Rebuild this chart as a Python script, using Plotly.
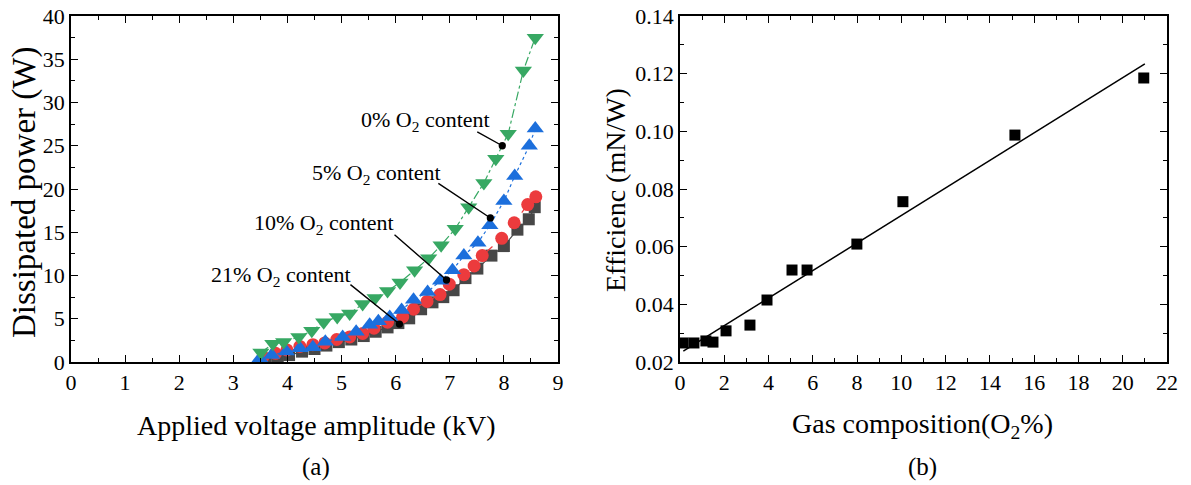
import numpy as np
import plotly.graph_objects as go

W, H = 1191, 485

# ---------------- data (a) ----------------
x_0 = [3.51, 3.73, 3.93, 4.21, 4.45, 4.67, 4.92, 5.15, 5.39, 5.62, 5.85, 6.08, 6.35, 6.61, 6.84, 7.10, 7.35, 7.63, 7.85, 8.08, 8.36, 8.58]
p_0 = [1.1, 2.1, 2.3, 2.9, 3.6, 4.6, 5.2, 5.6, 6.7, 7.4, 8.2, 9.2, 10.6, 12.0, 13.5, 15.4, 17.9, 20.7, 23.5, 26.4, 33.7, 37.5]

x_5 = [3.49, 3.71, 3.98, 4.23, 4.47, 4.70, 5.02, 5.27, 5.52, 5.68, 5.89, 6.11, 6.33, 6.59, 6.83, 7.05, 7.26, 7.52, 7.74, 8.00, 8.20, 8.47, 8.58]
p_5 = [0.4, 0.8, 1.2, 1.6, 1.7, 2.35, 2.9, 3.5, 4.3, 4.7, 5.2, 6.0, 7.2, 8.1, 9.4, 10.6, 12.3, 13.8, 15.8, 18.6, 21.5, 25.0, 27.0]

x_10 = [3.55, 3.78, 3.99, 4.23, 4.47, 4.69, 4.91, 5.15, 5.39, 5.60, 5.85, 6.13, 6.33, 6.58, 6.82, 6.99, 7.26, 7.45, 7.60, 7.96, 8.19, 8.44, 8.59]
p_10 = [0.6, 1.0, 1.4, 1.8, 2.0, 2.2, 2.6, 2.9, 3.3, 3.9, 4.6, 5.2, 6.1, 7.0, 7.8, 9.0, 10.1, 11.1, 12.3, 14.3, 16.1, 18.2, 19.1]

x_21 = [3.60, 3.82, 4.03, 4.27, 4.50, 4.72, 4.95, 5.18, 5.41, 5.63, 5.85, 6.05, 6.25, 6.47, 6.68, 6.88, 7.07, 7.29, 7.51, 7.77, 8.00, 8.25, 8.46, 8.57]
p_21 = [0.3, 0.5, 0.8, 1.2, 1.5, 1.9, 2.3, 2.6, 3.0, 3.5, 4.0, 4.5, 5.05, 6.1, 6.9, 7.5, 8.3, 9.7, 10.8, 12.3, 13.4, 15.3, 16.5, 17.9]

# ---------------- data (b) ----------------
o2_pct = [0.14, 0.63, 1.17, 1.49, 2.08, 3.16, 3.93, 5.06, 5.74, 7.99, 10.07, 15.13, 20.95]
efficiency = [0.0266, 0.0266, 0.0273, 0.0269, 0.0308, 0.0328, 0.0415, 0.0519, 0.0519, 0.0609, 0.0756, 0.0987, 0.1185]
fit_range = [0.15, 21.0]

FONT = "Liberation Serif, Times New Roman, serif"
GREEN, BLUE, RED, DARK = "#37a863", "#1c6fdc", "#ec3b3d", "#474747"

def px(x):
    return x / W

def py(y):
    return 1 - y / H

fig = go.Figure()

series = [
    (x_21, p_21, DARK, "square", 12, "solid"),
    (x_10, p_10, RED, "circle", 13, "dash"),
    (x_5, p_5, BLUE, "triangle-up", 15, "dot"),
    (x_0, p_0, GREEN, "triangle-down", 15, "dashdot"),
]
for xs, ys, col, sym, sz, dash in series:
    fig.add_trace(go.Scatter(x=xs, y=ys, mode="lines+markers", xaxis="x", yaxis="y",
                             line=dict(color=col, width=1.2, dash=dash),
                             marker=dict(symbol=sym, size=sz, color=col, line=dict(width=0)),
                             showlegend=False))

coef = np.polyfit(o2_pct, efficiency, 1)
xf = np.array(fit_range)
fig.add_trace(go.Scatter(x=xf, y=np.polyval(coef, xf), mode="lines", xaxis="x2", yaxis="y2",
                         line=dict(color="black", width=1.5), showlegend=False))
fig.add_trace(go.Scatter(x=o2_pct, y=efficiency, mode="markers", xaxis="x2", yaxis="y2",
                         marker=dict(symbol="square", size=11, color="black"), showlegend=False))

ydom = [py(362), py(16)]
axis_common = dict(showgrid=False, zeroline=False, showline=True, linecolor="black", linewidth=1.5,
                   mirror="ticks", ticks="inside", ticklen=7, tickwidth=1.3, tickcolor="black",
                   automargin=False,
                   tickfont=dict(family=FONT, size=22, color="black"))
minor = dict(ticks="inside", ticklen=4, tickwidth=1.1, tickcolor="black", showgrid=False)

fig.update_layout(
    width=W, height=H, margin=dict(l=0, r=0, t=0, b=0, pad=0, autoexpand=False),
    paper_bgcolor="white", plot_bgcolor="white",
    font=dict(family=FONT, color="black"),
    xaxis=dict(domain=[px(71), px(558)], range=[0, 9], dtick=1, tick0=0, anchor="y",
               minor=dict(dtick=0.5, **minor), **axis_common),
    yaxis=dict(domain=ydom, range=[0, 40], dtick=5, tick0=0, anchor="x",
               minor=dict(dtick=2.5, **minor), **axis_common),
    xaxis2=dict(domain=[px(680), px(1167)], range=[0, 22], dtick=2, tick0=0, anchor="y2",
                minor=dict(dtick=1, **minor), **axis_common),
    yaxis2=dict(domain=ydom, range=[0.02, 0.14], dtick=0.02, tick0=0.02, tickformat=".2f", anchor="x2",
                minor=dict(dtick=0.01, **minor), **axis_common),
)

def text(x, y, s, size, angle=0):
    fig.add_annotation(x=px(x), y=py(y), xref="paper", yref="paper", text=s, showarrow=False,
                       textangle=angle, xanchor="center", yanchor="middle",
                       font=dict(family=FONT, size=size, color="black"))

text(25, 193, "Dissipated power (W)", 33, -90)
text(316, 425, "Applied voltage amplitude (kV)", 28)
text(316, 467, "(a)", 25)
text(616, 190, "Efficienc (mN/W)", 28, -90)
text(922, 425, "Gas composition(O<sub>2</sub>%)", 28)
text(922, 467, "(b)", 25)

labels = [
    ("0% O<sub>2</sub> content", 425, 121, 7.97, 25.0, -27, -15),
    ("5% O<sub>2</sub> content", 376, 174, 7.75, 16.65, -54, -36),
    ("10% O<sub>2</sub> content", 324, 224, 6.94, 9.48, -54, -47),
    ("21% O<sub>2</sub> content", 281, 276, 6.07, 4.39, -51, -41),
]
for s, tx, ty, hx, hy, ax, ay in labels:
    text(tx, ty, s, 22)
    fig.add_annotation(x=hx, y=hy, xref="x", yref="y", text=" ", showarrow=True,
                       ax=ax, ay=ay, arrowhead=6, arrowsize=1.3, arrowwidth=1.4, arrowcolor="black",
                       font=dict(family=FONT, size=2))

fig.write_html("out.html")
